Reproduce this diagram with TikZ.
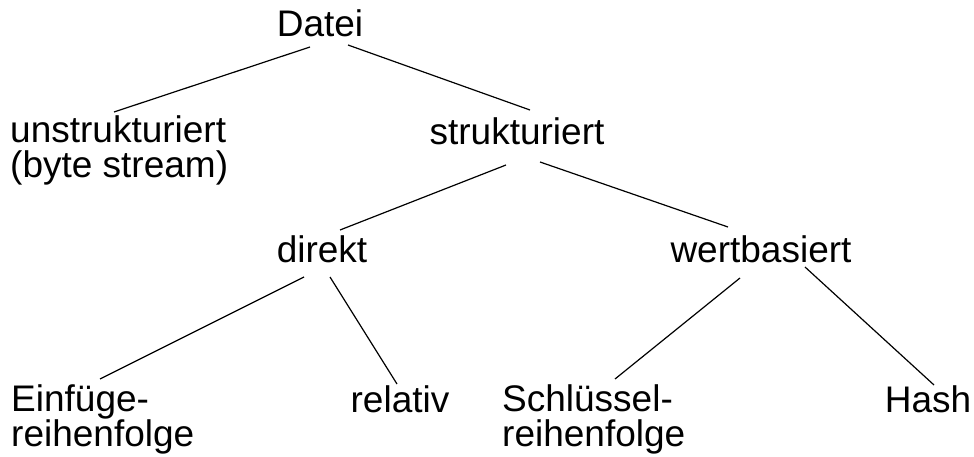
\documentclass[tikz,border=0pt]{standalone}
\usepackage{fontspec}
\setmainfont{Liberation Sans}
\usetikzlibrary{calc}
\begin{document}
\begin{tikzpicture}[x=1pt,y=-1pt,
  lbl/.style={inner sep=0pt,font=\fontsize{37}{35}\selectfont},
  lblleft/.style={lbl,align=left,anchor=base west},
  lblmid/.style={lbl,anchor=base},
  edge/.style={line width=1.2pt,black}]
\useasboundingbox (0,0) rectangle (974,457);
% tree nodes (two-line labels are anchored at the baseline of their last line)
\node[lblmid]  (datei)  at (320,37)  {Datei};
\node[lblleft] (unstr)  at (10,178)  {unstrukturiert\\(byte stream)};
\node[lblmid]  (str)    at (517,145) {strukturiert};
\node[lblmid]  (direkt) at (322,262) {direkt};
\node[lblmid]  (wert)   at (761,262) {wertbasiert};
\node[lblleft] (einf)   at (11,446)  {Einfüge-\\reihenfolge};
\node[lblmid]  (rel)    at (400,412) {relativ};
\node[lblleft] (schl)   at (502,446) {Schlüssel-\\reihenfolge};
\node[lblmid]  (hash)   at (928,412) {Hash};
% connectors
\draw[edge] ($(datei.base)+(-10,10)$) -- ($(unstr.base west)+(104,-66)$);
\draw[edge] ($(datei.base)+(28,8)$)   -- ($(str.base)+(13,-35)$);
\draw[edge] ($(str.base)+(-11,20)$)   -- ($(direkt.base)+(18,-32)$);
\draw[edge] ($(str.base)+(23,17)$)    -- ($(wert.base)+(-33,-35)$);
\draw[edge] ($(direkt.base)+(-18,15)$) -- ($(einf.base west)+(89,-67)$);
\draw[edge] ($(direkt.base)+(8,15)$)  -- ($(rel.base)+(-3,-28)$);
\draw[edge] ($(wert.base)+(-21,16)$)  -- ($(schl.base west)+(113,-67)$);
\draw[edge] ($(wert.base)+(44,5)$)    -- ($(hash.base)+(6,-27)$);
\end{tikzpicture}
\end{document}
